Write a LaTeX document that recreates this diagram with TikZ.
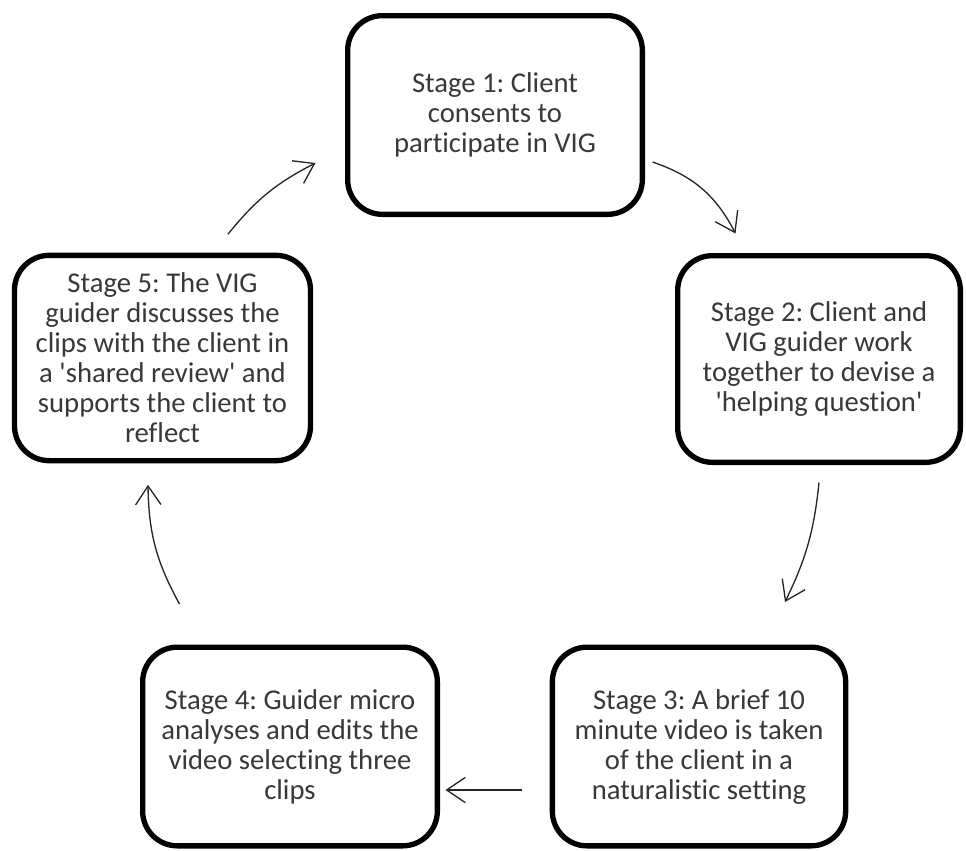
\documentclass[tikz,border=0pt]{standalone}
\usepackage{fontspec}
\setmainfont{Carlito}[Ligatures={NoCommon}]
\usetikzlibrary{arrows.meta}
\frenchspacing

\begin{document}
\begin{tikzpicture}[x=0.75pt,y=0.75pt]
	\tikzstyle{every node}+=[inner sep=0pt]
	\tikzstyle{stage}=[draw=black, line width=4pt, rounded corners=26pt, align=center,
		minimum width=221pt, minimum height=149pt, text=black!78,
		font=\fontsize{21.5pt}{22.5pt}\selectfont]
	\tikzstyle{flow}=[draw=black!85, line width=1pt, -{Straight Barb[length=14pt, width=19pt]}]
	\useasboundingbox (0,0) rectangle (966,-850);
	\node [stage] (s1) at (495,-115) {Stage 1: Client\\consents to\\participate in VIG};
	\node [stage, minimum width=212pt, minimum height=155pt] (s2) at (819,-359) {Stage 2: Client and\\VIG guider work\\together to devise a\\\textquotesingle helping question\textquotesingle};
	\node [stage, minimum width=220pt] (s3) at (699,-746.5) {Stage 3: A brief 10\\minute video is taken\\of the client in a\\naturalistic setting};
	\node [stage] (s4) at (290,-746.5) {Stage 4: Guider micro\\analyses and edits the\\video selecting three\\clips};
	\node [stage, minimum width=222pt, minimum height=154pt] (s5) at (162.5,-358) {Stage 5: The VIG\\guider discusses the\\clips with the client in\\a \textquotesingle shared review\textquotesingle{} and\\supports the client to\\reflect};
	\draw [flow] ([shift={(7.5,-47)}]s1.east) to [bend left=22] ([shift={(60.5,19.5)}]s2.north west);
	\draw [flow] ([shift={(0,-17.5)}]s2.south) to [bend left=10] ([shift={(86,42.5)}]s3.north);
	\draw [flow] ([shift={(-27.5,-43.5)}]s3.west) -- ([shift={(5.5,-43.5)}]s4.east);
	\draw [flow] ([shift={(39.5,40.5)}]s4.north west) to [bend left=14] ([shift={(-14.5,-21.5)}]s5.south);
	\draw [flow] ([shift={(65.5,18.5)}]s5.north) to [bend left=12] ([shift={(-29.5,-48)}]s1.west);
\end{tikzpicture}
\end{document}
